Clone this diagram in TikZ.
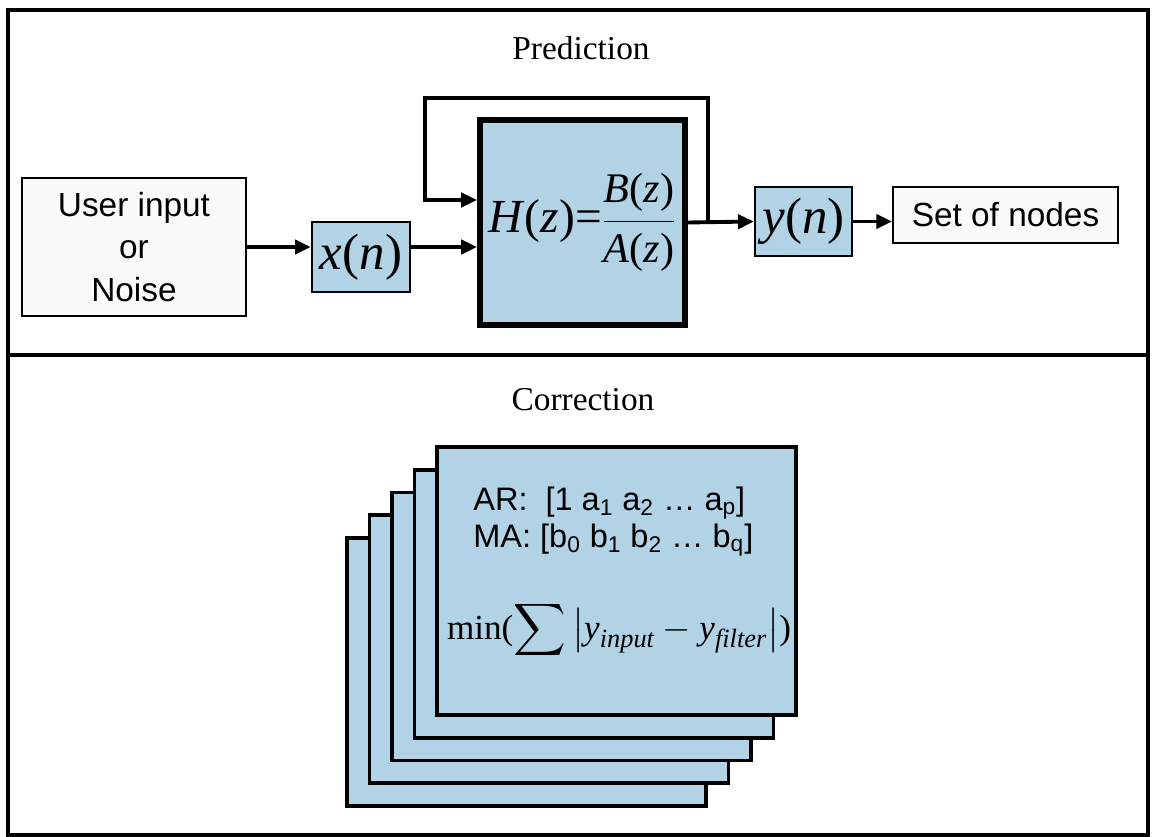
\documentclass[tikz,border=0pt]{standalone}
\usepackage{amsmath}
\usepackage{fontspec}
\setmainfont{Liberation Serif}
\setsansfont{Liberation Sans}
\usetikzlibrary{arrows.meta,positioning,calc}
\definecolor{filtblue}{RGB}{178,210,230}
\definecolor{paleg}{RGB}{250,250,250}
\newcommand{\subit}[1]{\text{\fontsize{15}{17}\selectfont\itshape #1}}

\begin{document}
\begin{tikzpicture}[
    x=0.02cm, y=-0.02cm,
    block/.style={rectangle,draw,fill=paleg,line width=1.1pt,align=center,inner sep=0pt,font=\sffamily\fontsize{19}{24}\selectfont},
    sig/.style={rectangle,draw,fill=filtblue,line width=1.3pt,inner sep=0pt,font=\fontsize{29}{31}\selectfont},
    card/.style={rectangle,draw,fill=filtblue,line width=2.2pt,minimum width=7.18cm,minimum height=5.36cm},
    title/.style={font=\fontsize{19}{22}\selectfont},
    arrow/.style={line width=2.2pt,-{Triangle[length=9pt,width=8pt]}}
]
    \useasboundingbox (0,0) rectangle (1152,837);

    % panels
    \draw[line width=2.4pt] (8,10) rectangle (1148,835);
    \draw[line width=2.4pt] (8,355) -- (1148,355);
    \node[title] (pred) at (581,48) {Prediction};
    \node[title] (corr) at (583,400) {Correction};

    % prediction chain
    \node[block,minimum width=4.48cm,minimum height=2.76cm] (user) at (134,247) {User input\\or\\Noise};
    \node[sig,minimum width=1.96cm,minimum height=1.4cm] (xn) at (361,257) {\textit{x}(\textit{n})};
    \node[sig,line width=3.4pt,minimum width=4.1cm,minimum height=4.1cm,font=\fontsize{27}{29}\selectfont] (filt) at (582.5,222.5)
        {\textit{H}(\textit{z})=$\dfrac{\text{\fontsize{24}{26}\selectfont\textit{B}(\textit{z})}}{\text{\fontsize{24}{26}\selectfont\textit{A}(\textit{z})}}$};
    \node[sig,minimum width=1.94cm,minimum height=1.38cm] (yn) at (803.5,221.5) {\textit{y}(\textit{n})};
    \node[block,minimum width=4.5cm,minimum height=1.12cm] (nodes) at (1005.5,215) {Set of nodes};

    \coordinate (tap) at ($(filt.east)+(20,0)$);
    \coordinate (fbtop) at (425,98);

    \draw[arrow] (user.east) -- (user.east -| xn.west);
    \draw[arrow] (xn.east |- user.east) -- (user.east -| filt.west);
    \draw[arrow] (filt.east) -- (yn.west);
    \draw[arrow] (tap) |- (fbtop) |- ($(filt.west)+(0,-22.5)$);
    \draw[arrow] (yn.east) -- (yn.east -| nodes.west);

    % correction stack
    \foreach \i in {4,3,2,1,0}
        \node[card] (card\i) at ({616.5-22.5*\i},{581+22.75*\i}) {};

    \node[anchor=west,inner sep=0pt,font=\sffamily\fontsize{18.5}{22}\selectfont] (ar) at (473,503)
        {AR:~~[1 a\textsubscript{1} a\textsubscript{2} \ldots\ a\textsubscript{p}]};
    \node[anchor=west,inner sep=0pt,font=\sffamily\fontsize{18.5}{22}\selectfont] (ma) at (473,540)
        {MA: [b\textsubscript{0} b\textsubscript{1} b\textsubscript{2} \ldots\ b\textsubscript{q}]};
    \node[font=\fontsize{20}{24}\selectfont] (cost) at (619,630)
        {min($\displaystyle\sum\left|\textit{y}_{\subit{input}}-\textit{y}_{\subit{filter}}\right|$)};
\end{tikzpicture}
\end{document}
